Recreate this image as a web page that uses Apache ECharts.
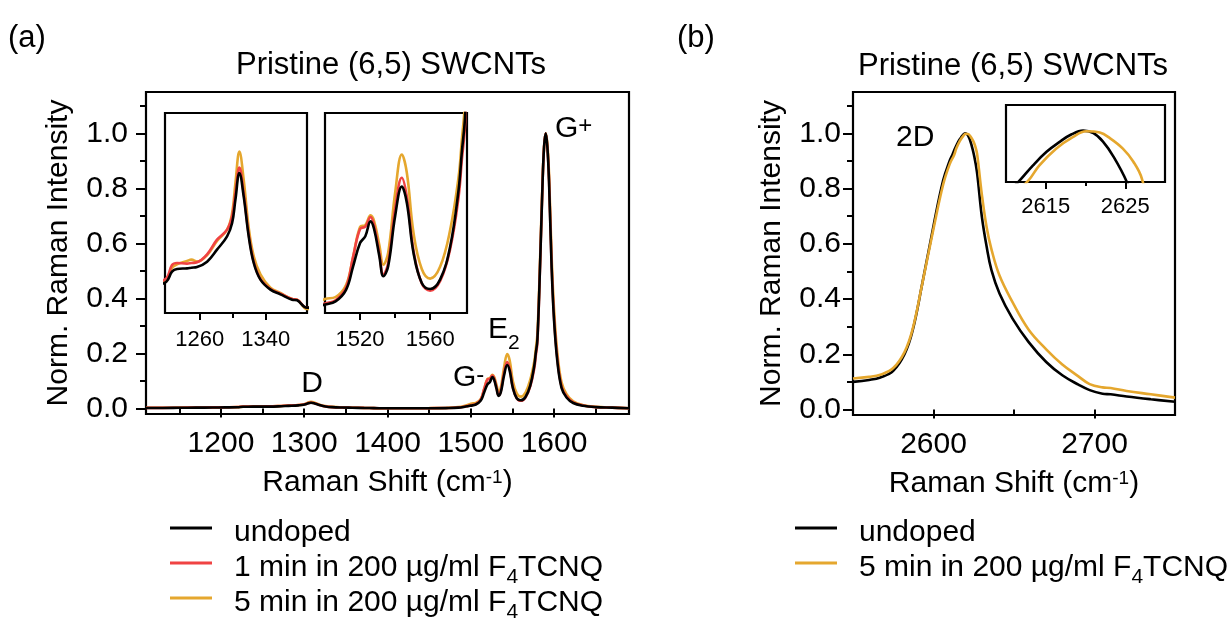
<!DOCTYPE html>
<html><head><meta charset="utf-8">
<script src="https://cdn.jsdelivr.net/npm/echarts@6/dist/echarts.min.js"></script>
<style>html,body{margin:0;padding:0;background:#fff}#c{width:1230px;height:626px}</style>
</head><body><div id="c"></div>
<script>
// ---------- DATA ----------
const seriesNames = ['undoped', '1 min in 200 \u00b5g/ml F4TCNQ', '5 min in 200 \u00b5g/ml F4TCNQ'];

// Panel (a): Raman shift (cm^-1), shared by the three spectra
const shiftA = [1110,1130,1150,1170,1190,1205,
  1219.6,1226.5,1232.6,1244.7,1250,1256.8,1269,1281,1293.2,1299.3,
  1303.3,1308.1,1313.3,1319.4,1325.5,1333.6,1345.7,1357.8,1372,1378,
  1390,1410,1430,1450,1470,1485,1494,
  1500,1506,1512,1516,1520,1523,1526,1528,1531,1533.3,
  1536,1540,1543.8,1546.7,1550.5,1555.2,1560,1565.7,1571.4,1576.2,
  1578,1580,1583,1586,1588,1590,1592,1594,1597,1600,
  1604,1609,1615,1623,1635,1650,1670,1690];
const undopedA = [0.002,0.002,0.0025,0.003,0.0035,0.004,
  0.0047,0.0062,0.0066,0.0067,0.0068,0.0069,0.0077,0.0095,0.0115,0.0135,
  0.017,0.021,0.0175,0.0115,0.0075,0.005,0.0035,0.0028,0.002,0.0019,
  0.0008,0.0008,0.0008,0.001,0.0015,0.003,0.007,
  0.0105,0.0145,0.029,0.058,0.0875,0.096,0.1145,0.105,0.071,0.046,
  0.058,0.121,0.158,0.1375,0.075,0.0375,0.030,0.042,0.083,0.154,
  0.20,0.25,0.50,0.80,0.95,1.0,0.95,0.82,0.52,0.32,
  0.17,0.075,0.04,0.02,0.01,0.005,0.003,0.001];
const min1A = [0.0022,0.0022,0.0028,0.0033,0.004,0.0045,
  0.0052,0.0072,0.0075,0.0074,0.0075,0.0076,0.0088,0.011,0.0125,0.0145,
  0.018,0.0218,0.018,0.0118,0.0077,0.0051,0.0036,0.0029,0.0021,0.002,
  0.0008,0.0009,0.0009,0.0011,0.0017,0.0035,0.008,
  0.012,0.016,0.032,0.07,0.105,0.108,0.12,0.11,0.075,0.048,
  0.062,0.13,0.169,0.145,0.078,0.037,0.028,0.04,0.08,0.145,
  0.19,0.24,0.50,0.80,0.95,1.0,0.95,0.83,0.53,0.33,
  0.18,0.08,0.044,0.022,0.011,0.005,0.003,0.001];
const min5A = [0.0025,0.0025,0.003,0.0035,0.004,0.0045,
  0.005,0.0068,0.0073,0.0078,0.008,0.0077,0.0087,0.0108,0.0125,0.015,
  0.0195,0.0242,0.020,0.0128,0.0085,0.0058,0.0038,0.003,0.0021,0.002,
  0.0006,0.001,0.001,0.0012,0.002,0.005,0.011,
  0.0175,0.02,0.035,0.07,0.1075,0.11,0.122,0.115,0.085,0.0605,
  0.075,0.15,0.198,0.175,0.10,0.055,0.043,0.058,0.104,0.17,
  0.215,0.27,0.52,0.81,0.95,1.0,0.96,0.85,0.56,0.36,
  0.20,0.095,0.052,0.026,0.012,0.006,0.003,0.001];

// Panel (b): 2D band
const shiftBundoped = [2550,2560,2567,2575,2582,2587,2593,2600,2606,2610,2611.7,2613.4,2615.1,2616.8,2618.2,2619.7,2621,2622.2,2623.5,2625.2,2627,2630,2633,2636,2641,2649,2659,2670,2680,2690,2697,2705,2710,2720,2735,2750];
const undopedB = [0.100,0.107,0.116,0.140,0.200,0.285,0.455,0.665,0.830,0.900,0.922,0.946,0.967,0.983,0.994,1.0,0.996,0.983,0.960,0.920,0.860,0.700,0.590,0.505,0.420,0.330,0.245,0.172,0.124,0.090,0.070,0.057,0.055,0.047,0.037,0.028];
const shiftBmin5 = [2550,2560,2567,2575,2582,2587,2593,2600,2606,2610,2612.8,2614.2,2616.3,2618.4,2620.1,2621.8,2623.1,2624.7,2626,2627.1,2630,2633,2636,2641,2649,2659,2670,2680,2690,2697,2705,2710,2720,2735,2750];
const min5B = [0.112,0.118,0.126,0.150,0.208,0.290,0.455,0.655,0.815,0.888,0.922,0.946,0.972,0.990,0.999,0.997,0.988,0.972,0.952,0.925,0.780,0.660,0.580,0.485,0.390,0.290,0.218,0.163,0.120,0.092,0.080,0.078,0.067,0.055,0.043];

// tick values
const ticksAmajor = [1200,1300,1400,1500,1600];
const ticksAminor = [1150,1250,1350,1450,1550,1650];
const ticksInset1 = [1260,1340], ticksInset1minor = [1300];
const ticksInset2 = [1520,1560], ticksInset2minor = [1540];
const ticksBmajor = [2600,2700], ticksBminor = [2550,2650,2750];
const ticksInsetB = [2615,2625], ticksInsetBminor = [2620];
const ticksY = [0,0.2,0.4,0.6,0.8,1.0];
const ticksYminor = [0.1,0.3,0.5,0.7,0.9,1.1];

// ---------- CHART ----------
const FONT = '"Liberation Sans", Arial, Helvetica, sans-serif';
const BLACK = '#000000', RED = '#f04343', GOLD = '#e5a72e';
const chart = echarts.init(document.getElementById('c'), null, {renderer: 'canvas'});
const pairs = (xs, ys) => xs.map((x, i) => [x, ys[i]]);

const grids = [
  {left: 146, top: 92, width: 483, height: 322},
  {left: 165, top: 113, width: 142, height: 200},
  {left: 325, top: 113, width: 142, height: 200},
  {left: 853, top: 92, width: 322, height: 323},
  {left: 1006, top: 105, width: 159, height: 77}
].map(g => Object.assign({show: true, backgroundColor: '#fff', borderColor: '#000', borderWidth: 2.2}, g));

const supRich = {
  m: {fontSize: 30, lineHeight: 30, verticalAlign: 'top', fontFamily: FONT, color: '#000'},
  sup: {fontSize: 19, lineHeight: 19, verticalAlign: 'top', fontFamily: FONT, color: '#000'}
};
const xName = '{m|Raman Shift (cm}{sup|-1}{m|)}';

function xAx(gridIndex, min, max, vals, opts) {
  opts = opts || {};
  return {
    type: 'value', gridIndex, min, max, position: 'bottom',
    axisLine: {show: false}, splitLine: {show: false},
    axisTick: {show: true, length: opts.len || 9, lineStyle: {color: '#000', width: 2}, customValues: vals},
    axisLabel: opts.noLabel ? {show: false} : {show: true, customValues: vals, fontSize: opts.fs || 30, fontFamily: FONT, color: '#000', margin: opts.margin || 15, formatter: v => String(v)},
    name: opts.name || '', nameLocation: 'middle', nameGap: opts.nameGap || 54,
    nameTextStyle: {fontSize: 30, fontFamily: FONT, color: '#000', rich: supRich}
  };
}
function yAx(gridIndex, min, max, vals, opts) {
  opts = opts || {};
  if (opts.hidden) return {type: 'value', gridIndex, min, max, show: false};
  return {
    type: 'value', gridIndex, min, max, position: 'left',
    axisLine: {show: false}, splitLine: {show: false},
    axisTick: {show: true, length: opts.len || 10, lineStyle: {color: '#000', width: 2}, customValues: vals},
    axisLabel: opts.noLabel ? {show: false} : {show: true, customValues: vals, fontSize: 30, fontFamily: FONT, color: '#000', margin: opts.margin || 18, formatter: v => v.toFixed(1)},
    name: opts.name || '', nameLocation: 'middle', nameGap: opts.nameGap || 72,
    nameTextStyle: {fontSize: 30, fontFamily: FONT, color: '#000'}
  };
}

const xAxis = [
  xAx(0, 1110, 1690, ticksAmajor, {name: xName, nameGap: 54, margin: 15}),
  xAx(0, 1110, 1690, ticksAminor, {noLabel: true, len: 5}),
  xAx(1, 1218, 1390, ticksInset1, {fs: 22, margin: 16, len: 7}),
  xAx(1, 1218, 1390, ticksInset1minor, {noLabel: true, len: 5}),
  xAx(2, 1500, 1581, ticksInset2, {fs: 22, margin: 16, len: 7}),
  xAx(2, 1500, 1581, ticksInset2minor, {noLabel: true, len: 5}),
  xAx(3, 2550, 2750, ticksBmajor, {name: xName, nameGap: 54, margin: 15}),
  xAx(3, 2550, 2750, ticksBminor, {noLabel: true, len: 5}),
  xAx(4, 2610, 2630, ticksInsetB, {fs: 22, margin: 14, len: 7}),
  xAx(4, 2610, 2630, ticksInsetBminor, {noLabel: true, len: 4})
];
const yAxis = [
  yAx(0, -0.02, 1.15, ticksY, {name: 'Norm. Raman Intensity', nameGap: 72, margin: 18}),
  yAx(0, -0.02, 1.15, ticksYminor, {noLabel: true, len: 6}),
  yAx(1, 0, 0.03, null, {hidden: true}),
  yAx(2, 0, 0.25, null, {hidden: true}),
  yAx(3, -0.02, 1.15, ticksY, {name: 'Norm. Raman Intensity', nameGap: 66, margin: 12}),
  yAx(3, -0.02, 1.15, ticksYminor, {noLabel: true, len: 6}),
  yAx(4, 0.92, 1.04, null, {hidden: true})
];

function line(name, xs, ys, color, xi, yi) {
  return {type: 'line', name, data: pairs(xs, ys), xAxisIndex: xi, yAxisIndex: yi,
    showSymbol: false, symbol: 'none', smooth: 0.4, clip: true,
    lineStyle: {color, width: 2.6}, itemStyle: {color}, emphasis: {disabled: true}};
}
const series = [];
[[0, 0], [2, 2], [4, 3]].forEach(([xi, yi]) => {
  series.push(line(seriesNames[2], shiftA, min5A, GOLD, xi, yi));
  series.push(line(seriesNames[1], shiftA, min1A, RED, xi, yi));
  series.push(line(seriesNames[0], shiftA, undopedA, BLACK, xi, yi));
});
[[6, 4], [8, 6]].forEach(([xi, yi]) => {
  series.push(line(seriesNames[0], shiftBundoped, undopedB, BLACK, xi, yi));
  series.push(line(seriesNames[2], shiftBmin5, min5B, GOLD, xi, yi));
});

const legendRich = {
  g: {width: 17, fontSize: 30, lineHeight: 30, padding: [5, 0, 5, 0], verticalAlign: 'top'},
  m: {fontSize: 30, lineHeight: 30, padding: [5, 0, 5, 0], verticalAlign: 'top', fontFamily: FONT, color: '#000'},
  sub: {fontSize: 21, lineHeight: 21, padding: [19, 0, 0, 0], verticalAlign: 'top', fontFamily: FONT, color: '#000'}
};
const fmtLegend = n => n.indexOf('F4TCNQ') >= 0
  ? '{g| }{m|' + n.replace('F4TCNQ', 'F') + '}{sub|4}{m|TCNQ}'
  : '{g| }{m|' + n + '}';
function legend(names, left) {
  return {data: names, orient: 'vertical', left, top: 513, padding: 0, itemGap: -5,
    itemWidth: 42, itemHeight: 3, icon: 'rect', selectedMode: false, formatter: fmtLegend,
    textStyle: {fontSize: 30, fontFamily: FONT, color: '#000', rich: legendRich}};
}

const annRich = {
  m: {fontSize: 30, lineHeight: 30, verticalAlign: 'top', fontFamily: FONT, fill: '#000', color: '#000'},
  sup: {fontSize: 24, lineHeight: 24, verticalAlign: 'top', fontFamily: FONT, fill: '#000', color: '#000'},
  sub: {fontSize: 21, lineHeight: 21, padding: [18, 0, 0, 0], verticalAlign: 'top', fontFamily: FONT, fill: '#000', color: '#000'}
};
function txt(text, x, y, opts) {
  opts = opts || {};
  return {type: 'text', x, y, silent: true, z: 100,
    style: {text, fontSize: opts.fs || 31, fontFamily: FONT, fill: '#000',
      align: opts.align || 'left', verticalAlign: opts.va || 'middle', rich: annRich}};
}

chart.setOption({
  animation: false,
  backgroundColor: '#ffffff',
  grid: grids,
  xAxis, yAxis, series,
  legend: [legend(seriesNames, 170), legend([seriesNames[0], seriesNames[2]], 795)],
  graphic: [
    txt('(a)', 8, 38, {fs: 31}),
    txt('(b)', 677, 38, {fs: 31}),
    txt('Pristine (6,5) SWCNTs', 391, 65, {align: 'center'}),
    txt('Pristine (6,5) SWCNTs', 1013, 66, {align: 'center'}),
    txt('{m|D}', 312, 384, {align: 'center'}),
    txt('{m|G}{sup|-}', 453, 378),
    txt('{m|E}{sub|2}', 488, 315, {va: 'top'}),
    txt('{m|G}{sup|+}', 555, 129),
    txt('{m|2D}', 896, 138)
  ]
});
</script></body></html>
